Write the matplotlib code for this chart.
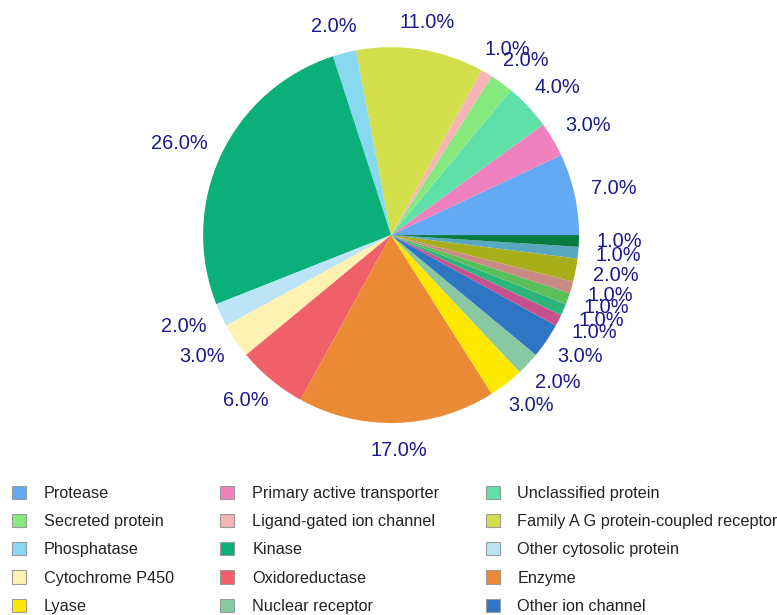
import numpy as np
import matplotlib.pyplot as plt
from matplotlib.patches import Patch
from matplotlib.transforms import offset_copy

plt.rcParams['font.family'] = ['Liberation Sans', 'DejaVu Sans']

# named categories (legend), in slice order, counter-clockwise from 3 o'clock
categories = [
    "Protease", "Primary active transporter", "Unclassified protein",
    "Secreted protein", "Ligand-gated ion channel", "Family A G protein-coupled receptor",
    "Phosphatase", "Kinase", "Other cytosolic protein",
    "Cytochrome P450", "Oxidoreductase", "Enzyme",
    "Lyase", "Nuclear receptor", "Other ion channel",
]
values = [7, 3, 4, 2, 1, 11, 2, 26, 2, 3, 6, 17, 3, 2, 3]
colors = [
    "#63a9f3", "#f081bf", "#60e0a9",
    "#86e97e", "#f5b5b7", "#d3df4a",
    "#88d8f0", "#0aaf79", "#bde4f6",
    "#fff1b0", "#f06068", "#eb8a35",
    "#ffe800", "#88c8a2", "#2e75c4",
]

# remaining small slices (their legend rows fall below the image edge)
extra_values = [1, 1, 1, 1, 2, 1, 1]
extra_colors = ["#c8508f", "#2db37c", "#5cc05a", "#c98a86", "#a8ae1a", "#58a8c0", "#0a7b40"]

all_values = values + extra_values
all_colors = colors + extra_colors

fig = plt.figure(figsize=(7.77, 6.15), dpi=100)
ax = fig.add_axes([0.2008, 0.2358, 0.605, 0.764])

wedges, texts = ax.pie(
    all_values, colors=all_colors, startangle=0, counterclock=True,
    labels=[f"{v:.1f}%" for v in all_values], labeldistance=1.095,
    wedgeprops=dict(linewidth=0),
    textprops=dict(color="#1a1a8a", fontsize=14.4),
)
ax.set_aspect("equal")

# push each label outward so its near edge sits at the anchor point
fig.canvas.draw()
for w, t in zip(wedges, texts):
    ang = np.deg2rad((w.theta1 + w.theta2) / 2)
    t.set_horizontalalignment("center")
    t.set_verticalalignment("center")
    bb = t.get_window_extent()
    dx = bb.width / 2 * np.cos(ang)
    dy = bb.height / 2 * np.sin(ang)
    t.set_transform(offset_copy(t.get_transform(), fig=fig, x=dx, y=dy, units="dots"))

# legend, row-major order in 3 columns
handles = [Patch(facecolor=c, edgecolor="#9a9a9a", linewidth=0.8) for c in colors]
order = [i for c in range(3) for i in range(c, len(categories), 3)]
fig.legend([handles[i] for i in order], [categories[i] for i in order],
           ncol=3, loc="upper left", bbox_to_anchor=(12 / 777, 1 - 486 / 615),
           frameon=False, fontsize=11.7, borderpad=0, borderaxespad=0,
           handlelength=0.86, handleheight=0.86, handletextpad=1.1,
           labelspacing=0.8, columnspacing=2.85, labelcolor="#222222")

fig.savefig("out.png", dpi=100)
